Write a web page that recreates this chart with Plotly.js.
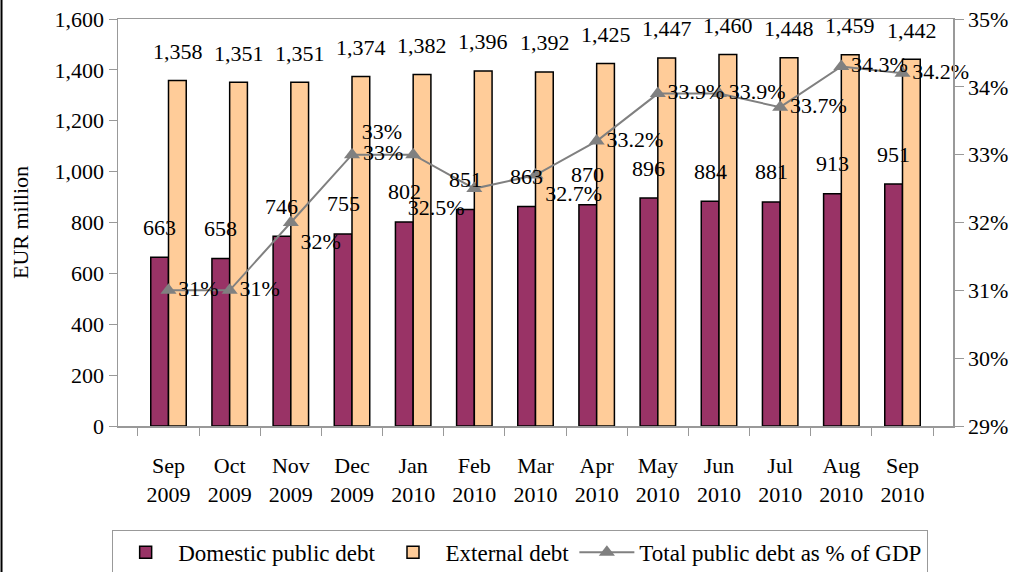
<!DOCTYPE html>
<html>
<head>
<meta charset="utf-8">
<script src="https://cdn.plot.ly/plotly-3.0.1.min.js"></script>
<style>
html,body{margin:0;padding:0;background:#fff;}
#chart{width:1016px;height:572px;}
</style>
</head>
<body>
<div id="chart"></div>
<script>
const categories = ["Sep<br>2009","Oct<br>2009","Nov<br>2009","Dec<br>2009","Jan<br>2010","Feb<br>2010","Mar<br>2010","Apr<br>2010","May<br>2010","Jun<br>2010","Jul<br>2010","Aug<br>2010","Sep<br>2010"];
const domesticDebt = [663,658,746,755,802,851,863,870,896,884,881,913,951];
const externalDebt = [1358,1351,1351,1374,1382,1396,1392,1425,1447,1460,1448,1459,1442];
const debtPctGDP = [31,31,32,33,33,32.5,32.7,33.2,33.9,33.9,33.7,34.3,34.2];
const pctLabels = ["31%","31%","32%","33%","33%","32.5%","32.7%","33.2%","33.9%","33.9%","33.7%","34.3%","34.2%"];
const pctLabelPos = ["middle right","middle right","bottom right","top right","middle left","bottom left","bottom right","middle right","middle right","middle right","middle right","middle right","middle right"];

const FONT = "Liberation Serif, Times New Roman, serif";
const FS = 22;
const fmt = v => v.toLocaleString("en-US");

const traces = [
  {type:"bar", name:"Domestic public debt", x:categories, y:domesticDebt,
   marker:{color:"#993366", line:{color:"#000", width:1.5}}},
  {type:"bar", name:"External debt", x:categories, y:externalDebt,
   marker:{color:"#FFCC99", line:{color:"#000", width:1.5}}},
  {type:"scatter", mode:"lines+markers+text", name:"Total public debt as % of GDP",
   x:categories, y:debtPctGDP, yaxis:"y2", text:pctLabels, textposition:pctLabelPos,
   cliponaxis:false,
   textfont:{family:FONT, size:FS, color:"#000"},
   line:{color:"#808080", width:2}, marker:{symbol:"triangle-up", size:14, color:"#808080"}}
];

const annotations = [];
categories.forEach((c,i)=>{
  annotations.push({xref:"x", yref:"y", x:c, y:domesticDebt[i], text:fmt(domesticDebt[i]),
    showarrow:false, xshift:-9, yshift:30, yanchor:"middle", font:{family:FONT,size:FS,color:"#000"}});
  annotations.push({xref:"x", yref:"y", x:c, y:externalDebt[i], text:fmt(externalDebt[i]),
    showarrow:false, xshift:9, yshift:29, yanchor:"middle", font:{family:FONT,size:FS,color:"#000"}});
});

const layout = {
  width:1016, height:572,
  margin:{l:118, r:63, t:19, b:146, autoexpand:false},
  paper_bgcolor:"#fff", plot_bgcolor:"#fff",
  font:{family:FONT, size:FS, color:"#000"},
  barmode:"group", bargap:0.42, bargroupgap:0,
  showlegend:true,
  legend:{orientation:"h", x:-0.007, xanchor:"left", y:-0.255, yanchor:"top",
    bordercolor:"#999", borderwidth:1, font:{family:FONT,size:FS+1,color:"#000"},
    traceorder:"normal", itemwidth:55},
  xaxis:{type:"category", showline:true, linecolor:"#999", linewidth:1.5, mirror:true,
    ticks:"outside", tickson:"boundaries", ticklen:8, tickcolor:"#999", tickangle:0,
    tickfont:{family:FONT,size:FS}, showgrid:false, zeroline:false, ticklabelstandoff:19},
  yaxis:{range:[0,1600], dtick:200, tickformat:",d", showline:true, linecolor:"#999", linewidth:1.5,
    ticks:"outside", ticklen:8, tickcolor:"#999", showgrid:false, zeroline:false,
    tickfont:{family:FONT,size:FS},
    title:{text:"EUR million", font:{family:FONT,size:FS}, standoff:20}},
  yaxis2:{overlaying:"y", side:"right", range:[29,35], dtick:1, ticksuffix:"%",
    showline:true, linecolor:"#999", linewidth:1.5, ticks:"outside", ticklen:9, tickcolor:"#999",
    showgrid:false, zeroline:false, tickfont:{family:FONT,size:FS}},
  annotations:annotations,
  shapes:[{type:"line", xref:"paper", yref:"paper", x0:-0.1395, x1:-0.1395, y0:-0.4, y1:1.1,
    line:{color:"#000", width:2}}]
};

Plotly.newPlot("chart", traces, layout, {displayModeBar:false, staticPlot:true});
</script>
</body>
</html>
